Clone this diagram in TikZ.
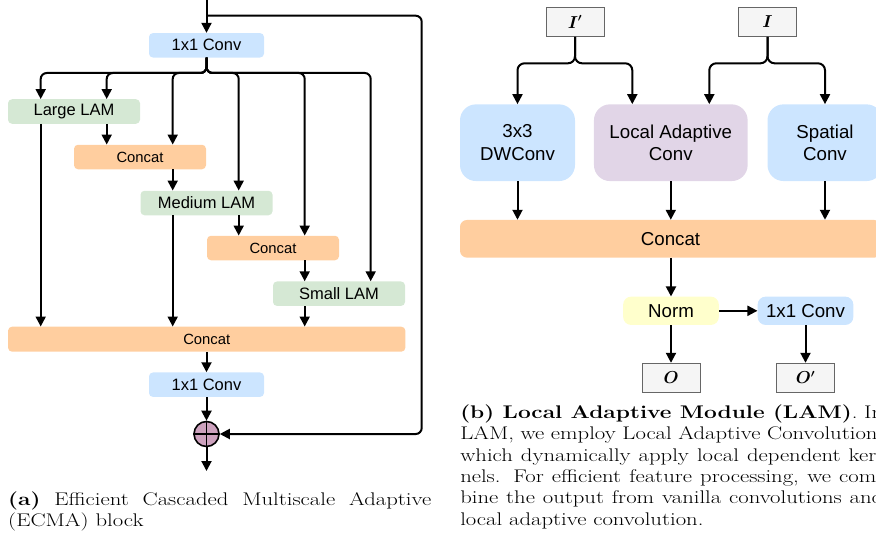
\documentclass[tikz,border=0pt]{standalone}
\usepackage{fontspec}
\usepackage{bm}
\newfontfamily\arial{Liberation Sans}
\usetikzlibrary{arrows.meta,calc}
\definecolor{cblue}{HTML}{CCE5FF}
\definecolor{cgreen}{HTML}{D5E8D4}
\definecolor{corange}{HTML}{FFCE9F}
\definecolor{cpurple}{HTML}{E1D5E7}
\definecolor{cyellow}{HTML}{FFFFCC}
\definecolor{cgray}{HTML}{F5F5F5}
\definecolor{cgrayd}{HTML}{666666}
\definecolor{cplus}{HTML}{CDA2BE}
\begin{document}
\begin{tikzpicture}[x=1pt,y=-1pt,
  arr/.style={-{Triangle[length=10pt,width=10pt]}, line width=2pt},
  lbox/.style={rectangle, rounded corners=4pt, inner sep=0pt, minimum width=132pt, minimum height=24.5pt, font=\arial\fontsize{16.5}{19}\selectfont},
  cbox/.style={lbox, fill=corange, font=\arial\fontsize{14.8}{17}\selectfont},
  rbox/.style={rectangle, rounded corners=16pt, inner sep=0pt, align=center, font=\arial\fontsize{18.7}{22.3}\selectfont},
  gbox/.style={rectangle, draw=cgrayd, fill=cgray, line width=1pt, inner sep=0pt, minimum width=58pt, minimum height=29pt, font=\fontsize{16}{18}\selectfont},
  capt/.style={anchor=base west, inner sep=0pt, text width=341.1pt, align=justify, transform shape, font=\fontsize{18.3}{21.4}\selectfont}
]
\path[use as bounding box] (0,0) rectangle (876,535);
\clip (0,0) rectangle (876,535);

% ---------- (a) ----------
\node[lbox, fill=cblue, minimum width=115pt] (conv1) at (206.5,45.3) {1x1 Conv};
\node[lbox, fill=cgreen] (llam) at (74,111.5) {Large LAM};
\node[cbox] (cat1) at (140,157) {Concat};
\node[lbox, fill=cgreen] (mlam) at (206.5,203) {Medium LAM};
\node[cbox] (cat2) at (273,248) {Concat};
\node[lbox, fill=cgreen] (slam) at (339,293.7) {Small LAM};
\node[cbox, minimum width=397.3pt, minimum height=25pt] (catb) at (206.7,339.2) {Concat};
\node[lbox, fill=cblue, minimum width=115pt] (conv2) at (206.5,384.7) {1x1 Conv};
\node[circle, draw, fill=cplus, minimum size=25pt, inner sep=0pt, line width=1.6pt] (plus) at (206.5,434) {};
\draw[line width=1.6pt] (plus.north) -- (plus.south) (plus.west) -- (plus.east);

\coordinate (k0) at (40.7,73);
\coordinate (k1) at (106.7,73);
\coordinate (k2) at (172.7,73);
\coordinate (k3) at (238.7,73);
\coordinate (k4) at (304.7,73);
\coordinate (k5) at (370.7,73);
\coordinate (spl) at (206.5,73);
\foreach \t/\k in {llam/k0, llam/k1, cat1/k2, mlam/k3, cat2/k4, slam/k5}
  \draw[arr, rounded corners=6pt] (conv1.south) -- (spl) -| (\t.north -| \k);

\draw[arr] (llam.south -| k1) -- (cat1.north -| k1);
\draw[arr] (llam.south -| k0) -- (catb.north -| k0);
\draw[arr] (cat1.south -| k2) -- (mlam.north -| k2);
\draw[arr] (mlam.south -| k2) -- (catb.north -| k2);
\draw[arr] (mlam.south -| k3) -- (cat2.north -| k3);
\draw[arr] (cat2.south -| k4) -- (slam.north -| k4);
\draw[arr] (slam.south -| k4) -- (catb.north -| k4);
\draw[arr] (catb.south -| conv2) -- (conv2.north);
\draw[arr] (conv2.south) -- (plus.north);
\coordinate (in) at (206.5,0);
\draw[arr] (in) -- (conv1.north);
\coordinate (tap) at (206.5,15.7);
\coordinate (skipc) at (421.7,15.7);
\draw[arr, rounded corners=6pt] (tap) -- (skipc) |- (plus.east);
\coordinate (out) at (206.5,471);
\draw[arr] (plus.south) -- (out);

\begin{scope}[shift={(8,505)}, xscale=1.24]
\node[capt] (capa) at (0,0) {\textbf{(a)} Efficient Cascaded Multiscale Adaptive\linebreak (ECMA) block};
\end{scope}

% ---------- (b) ----------
\node[gbox] (Ip) at (575,22) {$\bm{I'}$};
\node[gbox] (I) at (767.5,22) {$\bm{I}$};
\node[rbox, fill=cblue, minimum width=115pt, minimum height=76.7pt] (dw) at (517.5,142.7) {3x3\\DWConv};
\node[rbox, fill=cpurple, minimum width=153.7pt, minimum height=76.7pt] (lac) at (670.8,142.7) {Local Adaptive\\Conv};
\node[rbox, fill=cblue, minimum width=115pt, minimum height=76.7pt] (spc) at (825,142.7) {Spatial\\Conv};
\node[rbox, rounded corners=7pt, fill=corange, minimum width=421pt, minimum height=37.7pt] (catr) at (670.5,238.8) {Concat};
\node[rbox, rounded corners=8pt, fill=cyellow, minimum width=95.7pt, minimum height=28.3pt] (norm) at (671,310.8) {Norm};
\node[rbox, rounded corners=8pt, fill=cblue, minimum width=95.7pt, minimum height=28.3pt] (conv3) at (805.5,310.8) {1x1 Conv};
\node[gbox] (O) at (671,377.8) {$\bm{O}$};
\node[gbox] (Op) at (805.5,377.8) {$\bm{O'}$};

\coordinate (s1) at (575,63.3);
\coordinate (s2) at (767.5,63.3);
\coordinate (q1) at (632.3,63.3);
\coordinate (q2) at (709.3,63.3);
\draw[arr, rounded corners=7pt] (Ip.south) -- (s1) -| (dw.north);
\draw[arr, rounded corners=7pt] (Ip.south) -- (s1) -| (lac.north -| q1);
\draw[arr, rounded corners=7pt] (I.south) -- (s2) -| (lac.north -| q2);
\draw[arr, rounded corners=7pt] (I.south) -- (s2) -| (spc.north);
\draw[arr] (dw.south) -- (catr.north -| dw.south);
\draw[arr] (lac.south) -- (catr.north -| lac.south);
\draw[arr] (spc.south) -- (catr.north -| spc.south);
\draw[arr] (catr.south -| norm) -- (norm.north);
\draw[arr] (norm.east) -- (conv3.west);
\draw[arr] (norm.south) -- (O.north);
\draw[arr] (conv3.south) -- (Op.north);

\begin{scope}[shift={(460,418.3)}, xscale=1.24]
\node[capt] (capb) at (0,0) {\textbf{(b) Local Adaptive Module (LAM)}. In\linebreak LAM, we employ Local Adaptive Convolution,\linebreak which dynamically apply local dependent ker-\linebreak nels. For efficient feature processing, we com-\linebreak bine the output from vanilla convolutions and\linebreak local adaptive convolution.};
\end{scope}
\end{tikzpicture}
\end{document}
